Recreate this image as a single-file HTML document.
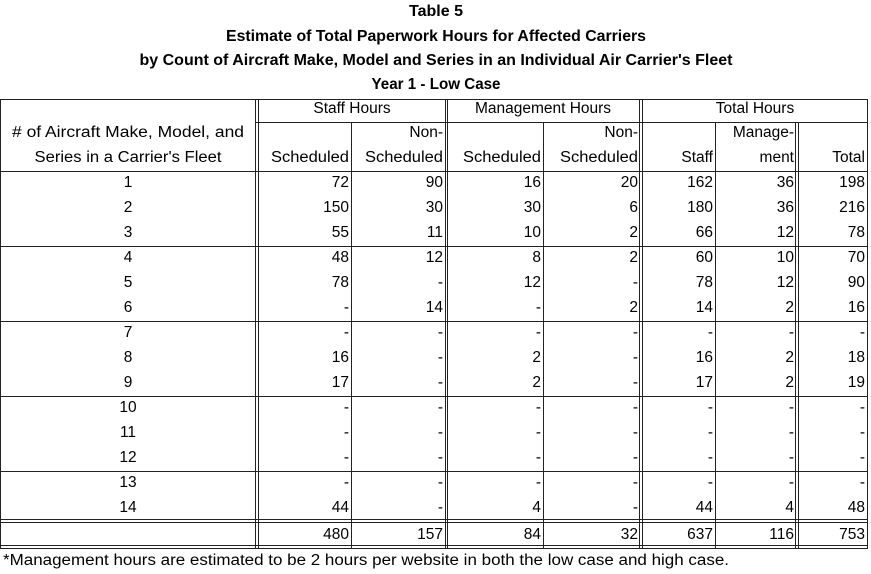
<!DOCTYPE html>
<html><head><meta charset="utf-8"><style>
html,body{margin:0;padding:0;background:#fff}
svg{display:block}
text{font-family:"Liberation Sans",sans-serif;font-size:15.5px;fill:#000}
.b{font-weight:bold}
</style></head><body>
<svg width="871" height="574" viewBox="0 0 871 574" xmlns="http://www.w3.org/2000/svg">
<g class="b">
<text class="b" x="436" y="16" text-anchor="middle" textLength="54" lengthAdjust="spacingAndGlyphs">Table 5</text>
<text class="b" x="436" y="41" text-anchor="middle" textLength="420" lengthAdjust="spacingAndGlyphs">Estimate of Total Paperwork Hours for Affected Carriers</text>
<text class="b" x="436" y="65" text-anchor="middle" textLength="593" lengthAdjust="spacingAndGlyphs">by Count of Aircraft Make, Model and Series in an Individual Air Carrier's Fleet</text>
<text class="b" x="436" y="89" text-anchor="middle" textLength="129" lengthAdjust="spacingAndGlyphs">Year 1 - Low Case</text>
</g>
<g stroke="#222" stroke-width="1" shape-rendering="crispEdges">
<line x1="0" y1="99.5" x2="868" y2="99.5"/>
<line x1="256" y1="122.5" x2="868" y2="122.5"/>
<line x1="0" y1="171.5" x2="868" y2="171.5"/>
<line x1="0" y1="246.5" x2="868" y2="246.5"/>
<line x1="0" y1="321.5" x2="868" y2="321.5"/>
<line x1="0" y1="396.5" x2="868" y2="396.5"/>
<line x1="0" y1="471.5" x2="868" y2="471.5"/>
<line x1="0" y1="519.5" x2="868" y2="519.5"/>
<line x1="0" y1="522.5" x2="868" y2="522.5"/>
<line x1="0" y1="545.5" x2="868" y2="545.5"/>
<line x1="0" y1="548.5" x2="868" y2="548.5"/>
<line x1="0.5" y1="99" x2="0.5" y2="549"/>
<line x1="867.5" y1="99" x2="867.5" y2="549"/>
<line x1="255.5" y1="99" x2="255.5" y2="549"/>
<line x1="258.5" y1="99" x2="258.5" y2="549"/>
<line x1="445.5" y1="99" x2="445.5" y2="549"/>
<line x1="447.5" y1="99" x2="447.5" y2="549"/>
<line x1="639.5" y1="99" x2="639.5" y2="549"/>
<line x1="642.5" y1="99" x2="642.5" y2="549"/>
<line x1="351.5" y1="122" x2="351.5" y2="549"/>
<line x1="543.5" y1="122" x2="543.5" y2="549"/>
<line x1="715.5" y1="122" x2="715.5" y2="549"/>
<line x1="795.5" y1="122" x2="795.5" y2="549"/>
<line x1="798.5" y1="122" x2="798.5" y2="549"/>
</g>
<text x="352" y="113" text-anchor="middle">Staff Hours</text>
<text x="543" y="113" text-anchor="middle">Management Hours</text>
<text x="755" y="113" text-anchor="middle">Total Hours</text>
<text x="128" y="137" text-anchor="middle" textLength="232" lengthAdjust="spacingAndGlyphs"># of Aircraft Make, Model, and</text>
<text x="128" y="162" text-anchor="middle" textLength="187" lengthAdjust="spacingAndGlyphs">Series in a Carrier's Fleet</text>
<g text-anchor="end">
<text x="443" y="137">Non-</text>
<text x="638" y="137">Non-</text>
<text x="794" y="137">Manage-</text>
<text x="349" y="162" textLength="78" lengthAdjust="spacingAndGlyphs">Scheduled</text>
<text x="443" y="162" textLength="78" lengthAdjust="spacingAndGlyphs">Scheduled</text>
<text x="541" y="162" textLength="78" lengthAdjust="spacingAndGlyphs">Scheduled</text>
<text x="638" y="162" textLength="78" lengthAdjust="spacingAndGlyphs">Scheduled</text>
<text x="713" y="162">Staff</text>
<text x="794" y="162">ment</text>
<text x="865" y="162">Total</text>
</g>
<g id="rows"></g>
<text x="3" y="565" textLength="726" lengthAdjust="spacingAndGlyphs">*Management hours are estimated to be 2 hours per website in both the low case and high case.</text>
</svg>
<script>
var d=[[72,90,16,20,162,36,198],[150,30,30,6,180,36,216],[55,11,10,2,66,12,78],[48,12,8,2,60,10,70],[78,'-',12,'-',78,12,90],['-',14,'-',2,14,2,16],['-','-','-','-','-','-','-'],[16,'-',2,'-',16,2,18],[17,'-',2,'-',17,2,19],['-','-','-','-','-','-','-'],['-','-','-','-','-','-','-'],['-','-','-','-','-','-','-'],['-','-','-','-','-','-','-'],[44,'-',4,'-',44,4,48]];
var xs=[349,443,541,638,713,794,865];
var g=document.getElementById('rows'),h='';
function t(x,y,s,a){return '<text x="'+x+'" y="'+y+'" text-anchor="'+a+'">'+s+'</text>';}
d.forEach(function(r,i){var y=187+i*25;h+=t(128,y,i+1,'middle');r.forEach(function(v,j){h+=t(xs[j],y,v,'end');});});
[480,157,84,32,637,116,753].forEach(function(v,j){h+=t(xs[j],539,v,'end');});
g.innerHTML=h;
</script>
</body></html>
